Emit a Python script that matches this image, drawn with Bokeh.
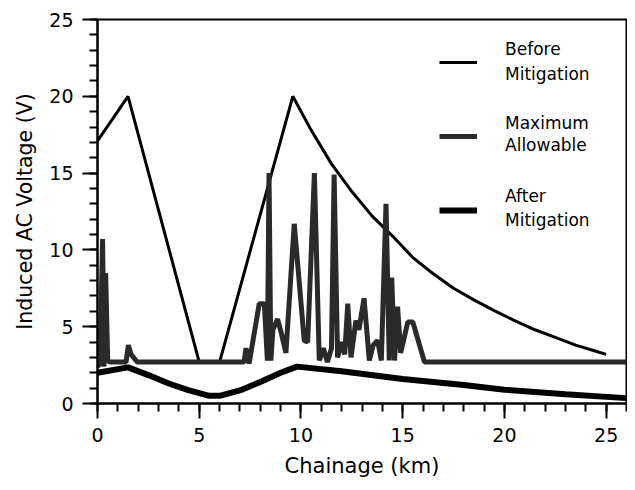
from bokeh.plotting import figure
from bokeh.models import Range1d, Legend, LegendItem, FixedTicker, Label
from bokeh.embed import file_html
from bokeh.resources import INLINE

# Before Mitigation
bm_x = [0, 1.5, 5.0, 6.0, 9.6, 10.5, 11.5, 12.5, 13.5, 14.5, 15.5, 16.5, 17.5, 18.5,
        19.5, 20.5, 21.5, 22.5, 23.5, 24.5, 25.0]
bm_y = [17.1, 20.0, 2.7, 2.7, 20.0, 17.8, 15.6, 13.8, 12.2, 10.9, 9.5, 8.45, 7.5, 6.75,
        6.05, 5.4, 4.8, 4.3, 3.8, 3.4, 3.2]

# Maximum Allowable
ma_x = [0, 0.12, 0.25, 0.32, 0.4, 0.5, 0.6, 1.4, 1.52, 1.65, 1.95, 7.2, 7.3, 7.45,
        7.95, 8.2, 8.35, 8.43, 8.52, 8.62, 8.85, 9.05, 9.26, 9.67, 10.16, 10.33,
        10.66, 10.9, 11.1, 11.3, 11.5, 11.63, 11.8, 12.0, 12.15, 12.3, 12.46, 12.7,
        12.85, 13.1, 13.36, 13.55, 13.77, 13.95, 14.18, 14.34, 14.46, 14.6, 14.75,
        14.9, 15.25, 15.5, 16.07, 26.0]
ma_y = [2.4, 2.6, 10.7, 2.4, 8.5, 2.8, 2.7, 2.7, 3.8, 3.2, 2.7, 2.7, 3.6, 2.6,
        6.5, 6.5, 2.8, 15.0, 2.8, 4.8, 5.5, 4.5, 3.3, 11.7, 4.1, 4.0,
        15.0, 2.8, 3.6, 2.7, 3.6, 14.9, 3.0, 4.0, 3.2, 6.5, 3.0, 5.4,
        4.8, 6.85, 2.8, 3.8, 4.1, 2.8, 13.0, 2.8, 8.2, 2.8, 6.3,
        3.3, 5.3, 5.3, 2.7, 2.7]

# After Mitigation
am_x = [0, 1.5, 2.5, 3.5, 4.5, 5.5, 6.0, 7.0, 8.0, 9.0, 9.8, 12.0, 15.0, 18.0, 20.0, 23.0, 26.0]
am_y = [2.0, 2.35, 1.85, 1.3, 0.85, 0.5, 0.5, 0.85, 1.4, 2.0, 2.4, 2.1, 1.6, 1.2, 0.9, 0.6, 0.35]

x_ticks = [0, 5, 10, 15, 20, 25]
y_ticks = [0, 5, 10, 15, 20, 25]
x_minor = list(range(0, 27))
y_minor = list(range(0, 26))

legend_lines = [["Before", "Mitigation"], ["Maximum", "Allowable"], ["After", "Mitigation"]]

FONT = "DejaVu Sans"

p = figure(width=627, height=482, output_backend="svg", toolbar_location=None,
           x_range=Range1d(0, 26), y_range=Range1d(0, 25),
           min_border_left=97, min_border_right=1, min_border_top=19, min_border_bottom=79)

p.xgrid.visible = False
p.ygrid.visible = False
p.outline_line_color = "black"
p.outline_line_width = 2
p.background_fill_color = "white"
p.border_fill_color = "white"

r_before = p.line(bm_x, bm_y, line_color="black", line_width=3)
r_max = p.line(ma_x, ma_y, line_color="#2a2a2a", line_width=5)
r_after = p.line(am_x, am_y, line_color="black", line_width=6)

for ax, ticks, minor in ((p.xaxis[0], x_ticks, x_minor), (p.yaxis[0], y_ticks, y_minor)):
    ax.ticker = FixedTicker(ticks=ticks, minor_ticks=minor)
    ax.axis_line_width = 2
    ax.axis_line_color = "black"
    ax.major_tick_line_width = 2
    ax.minor_tick_line_width = 2
    ax.major_tick_line_color = "black"
    ax.minor_tick_line_color = "black"
    ax.major_tick_out = 15
    ax.major_tick_in = 0
    ax.minor_tick_out = 8
    ax.minor_tick_in = 0
    ax.major_label_text_font = FONT
    ax.major_label_text_font_size = "19px"
    ax.major_label_text_color = "black"
    ax.major_label_standoff = 9
    ax.axis_label_text_font = FONT
    ax.axis_label_text_font_style = "normal"
    ax.axis_label_text_color = "black"

p.xaxis.axis_label = "Chainage (km)"
p.xaxis.axis_label_text_font_size = "21px"
p.xaxis.axis_label_standoff = 9
p.yaxis.axis_label = "Induced AC Voltage (V)"
p.yaxis.axis_label_text_font_size = "20.5px"
p.yaxis.axis_label_standoff = 9

legend = Legend(items=[
    LegendItem(label=" ", renderers=[r_before]),
    LegendItem(label=" ", renderers=[r_max]),
    LegendItem(label=" ", renderers=[r_after]),
], location=(342, 171), orientation="vertical")
legend.border_line_color = None
legend.background_fill_alpha = 0
legend.padding = 0
legend.margin = 0
legend.spacing = 30
legend.glyph_width = 38
legend.glyph_height = 20
legend.label_height = 44
legend.label_standoff = 0
legend.label_width = 0
legend.label_text_font_size = "17px"
p.add_layout(legend, "center")

# legend text, two lines per entry (positions in data units)
text_x = 20.03
text_y = [[23.1, 21.48], [18.25, 16.8], [13.5, 11.95]]
for lines, ys in zip(legend_lines, text_y):
    for t, yy in zip(lines, ys):
        p.add_layout(Label(x=text_x, y=yy, text=t, text_font=FONT,
                           text_font_size="17px", text_color="black",
                           text_baseline="alphabetic", text_align="left"))

open("out.html", "w").write(file_html(p, INLINE))
